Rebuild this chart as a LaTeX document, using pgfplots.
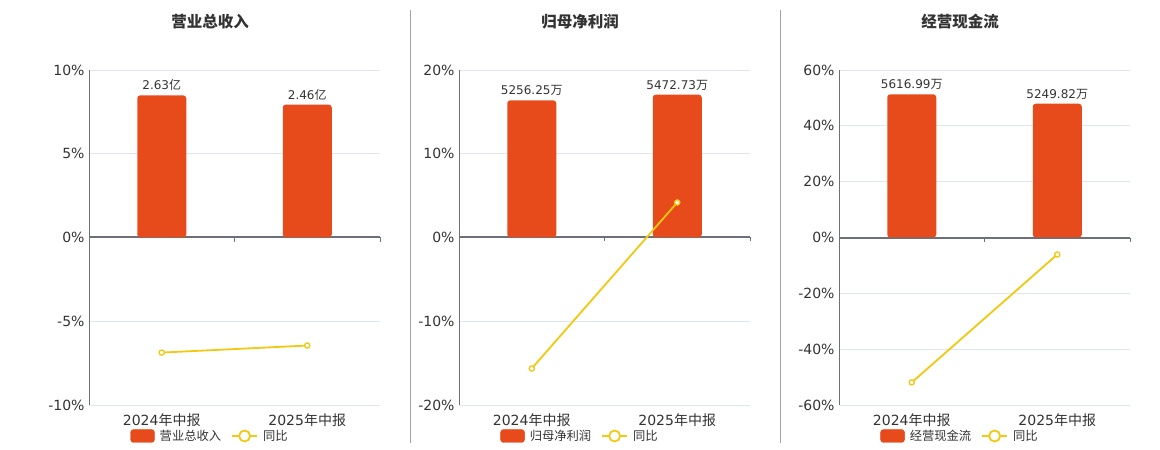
\documentclass[border=0pt]{standalone}
\usepackage{pgfplots}
\pgfplotsset{compat=1.18}
\usepackage{fontspec}
\setmainfont{DejaVu Sans}
\newfontfamily\cjk{Noto Sans CJK SC}

\definecolor{barred}{HTML}{E84B1B}
\definecolor{lineyel}{HTML}{F2C811}
\definecolor{gridc}{HTML}{E0E6F1}
\definecolor{axisc}{HTML}{6E7079}
\definecolor{txt}{HTML}{333333}
\definecolor{sepc}{HTML}{A3A59E}

\pgfplotsset{
  panel/.style={scale only axis, width=291pt, height=335pt, anchor=south west,
    xmin=-0.5, xmax=1.5},
  % grid, y labels and the zero line
  frame/.style={panel, axis x line=middle, axis y line=left,
    axis line style={-, draw=axisc},
    every inner x axis line/.append style={line width=2pt},
    y axis line style={line width=0.8pt},
    xtick={-0.5,0.5,1.5}, xticklabels={,,}, tick align=outside,
    xtick style={draw=axisc, line width=0.8pt}, major tick length=4pt,
    ytick style={draw=none}, ymajorgrids, grid style={gridc, line width=0.8pt},
    /pgf/number format/assume math mode=true,
    yticklabel style={font=\fontsize{14}{16}\selectfont, text=txt, xshift=3pt}},
  % bars, on their own scale
  bars/.style={panel, hide axis, clip=false},
  barplot/.style={ybar, bar width=49pt, bar shift=0pt, fill=barred, draw=none,
    rounded corners=3pt, nodes near coords, point meta=explicit symbolic,
    every node near coord/.append style={font=\fontsize{12}{14}\selectfont,
      text=txt, yshift=1pt}},
  % yoy line, category labels and legend
  yoy/.style={panel, axis line style={draw=none}, tick style={draw=none},
    ytick=\empty, xtick={0,1},
    xticklabels={2024{\cjk 年中报},2025{\cjk 年中报}},
    xticklabel style={font=\fontsize{14}{16}\selectfont, text=txt, yshift=-5pt},
    clip=false,
    legend style={at={(0.4158,-0.0925)}, anchor=center, draw=none, fill=none,
      font=\cjk\fontsize{12.3}{14}\selectfont, text=txt,
      /tikz/every odd column/.append style={column sep=3pt},
      /tikz/every even column/.append style={column sep=8pt}},
    legend columns=2},
  lineplot/.style={lineyel, line width=1.8pt, mark=*, mark size=2.6pt,
    mark options={fill=white, draw=lineyel, line width=1.3pt},
    legend image code/.code={
      \draw[lineyel, line width=1.8pt] (0pt,0pt) -- (25pt,0pt);
      \draw[lineyel, line width=1.8pt, fill=white] (12.5pt,0pt) circle (5.5pt);}},
  barlegend/.style={legend image code/.code={
      \fill[barred, rounded corners=3pt] (0pt,-6.5pt) rectangle (24pt,6.5pt);}}
}

\begin{document}
\begin{tikzpicture}
\useasboundingbox (0pt,0pt) rectangle (1160pt,450pt);

\draw[sepc, line width=1pt] (410.5pt,7pt) -- (410.5pt,440pt);
\draw[sepc, line width=1pt] (780.5pt,7pt) -- (780.5pt,440pt);

\node[font=\cjk\bfseries\fontsize{15.5}{18}\selectfont, text=txt] at (210pt,428pt) {营业总收入};
\node[font=\cjk\bfseries\fontsize{15.5}{18}\selectfont, text=txt] at (580pt,428pt) {归母净利润};
\node[font=\cjk\bfseries\fontsize{15.5}{18}\selectfont, text=txt] at (960pt,428pt) {经营现金流};

% ---- panel 1
\begin{axis}[frame, at={(89pt,45pt)}, ymin=-10, ymax=10,
  ytick={-10,-5,0,5,10}, yticklabels={-10\%,-5\%,0\%,5\%,10\%}]
\end{axis}
\begin{axis}[bars, at={(89pt,45pt)}, ymin=-3.10, ymax=3.10]
  \addplot[barplot] coordinates {(0,2.63)[2.63{\cjk 亿}] (1,2.46)[2.46{\cjk 亿}]};
\end{axis}
\begin{axis}[yoy, at={(89pt,45pt)}, ymin=-10, ymax=10]
  \addlegendimage{barlegend}
  \addlegendentry{营业总收入}
  \addplot[lineplot] coordinates {(0,-6.87) (1,-6.45)};
  \addlegendentry{同比}
\end{axis}

% ---- panel 2
\begin{axis}[frame, at={(459pt,45pt)}, ymin=-20, ymax=20,
  ytick={-20,-10,0,10,20}, yticklabels={-20\%,-10\%,0\%,10\%,20\%}]
\end{axis}
\begin{axis}[bars, at={(459pt,45pt)}, ymin=-6418, ymax=6418]
  \addplot[barplot] coordinates {(0,5256.25)[5256.25{\cjk 万}] (1,5472.73)[5472.73{\cjk 万}]};
\end{axis}
\begin{axis}[yoy, at={(459pt,45pt)}, ymin=-20, ymax=20]
  \addlegendimage{barlegend}
  \addlegendentry{归母净利润}
  \addplot[lineplot] coordinates {(0,-15.64) (1,4.18)};
  \addlegendentry{同比}
\end{axis}

% ---- panel 3
\begin{axis}[frame, at={(839pt,45pt)}, ymin=-60, ymax=60,
  ytick={-60,-40,-20,0,20,40,60},
  yticklabels={-60\%,-40\%,-20\%,0\%,20\%,40\%,60\%}]
\end{axis}
\begin{axis}[bars, at={(839pt,45pt)}, ymin=-6570, ymax=6570]
  \addplot[barplot] coordinates {(0,5616.99)[5616.99{\cjk 万}] (1,5249.82)[5249.82{\cjk 万}]};
\end{axis}
\begin{axis}[yoy, at={(839pt,45pt)}, ymin=-60, ymax=60]
  \addlegendimage{barlegend}
  \addlegendentry{经营现金流}
  \addplot[lineplot] coordinates {(0,-51.9) (1,-6.09)};
  \addlegendentry{同比}
\end{axis}
\end{tikzpicture}
\end{document}
